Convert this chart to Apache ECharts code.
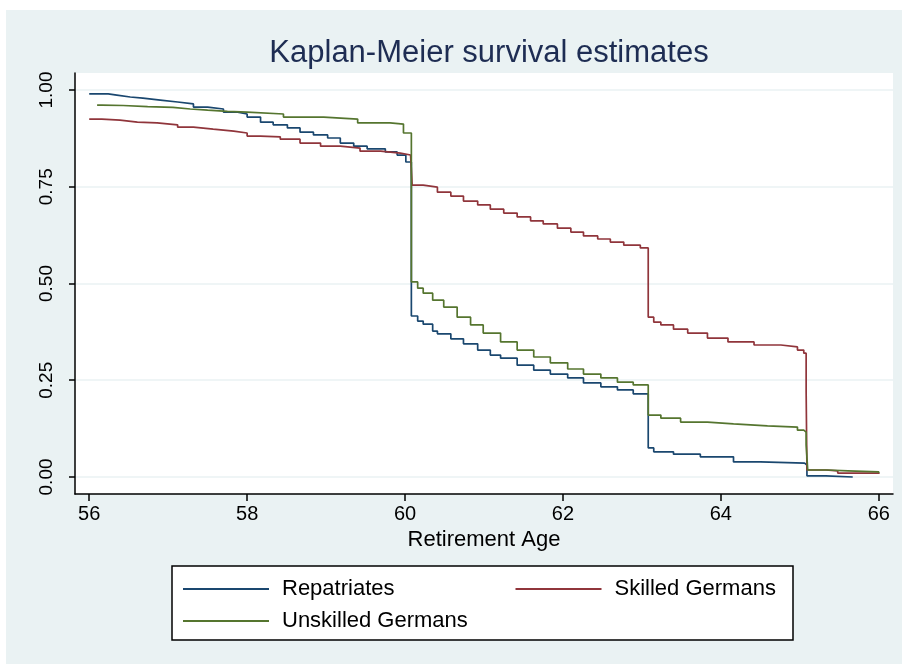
<!DOCTYPE html>
<html>
<head>
<meta charset="utf-8">
<script src="https://cdn.jsdelivr.net/npm/echarts@6/dist/echarts.min.js"></script>
<style>
html, body { margin: 0; padding: 0; background: #fff; }
#km { width: 902px; height: 664px; }
</style>
</head>
<body>
<div id="km"></div>
<script>
// tick labels
var xTicks = [56, 58, 60, 62, 64, 66];
var yTicks = [0, 0.25, 0.5, 0.75, 1];

// Repatriates: retirement age / survival estimate
var repAge = [56.00, 56.24, 56.35, 56.52, 56.68, 56.90, 57.12, 57.32, 57.50, 57.70, 57.88, 58.00, 58.17, 58.33, 58.51, 58.67, 58.84, 59.02, 59.18, 59.35, 59.52, 59.75, 59.90, 60.01, 60.08, 60.16, 60.23, 60.35, 60.41, 60.58, 60.74, 60.92, 61.08, 61.21, 61.42, 61.63, 61.84, 62.06, 62.26, 62.48, 62.69, 62.89, 63.08, 63.15, 63.40, 63.74, 64.16, 64.50, 65.06, 65.09, 65.33, 65.67];
var repSurv = [0.990, 0.987, 0.982, 0.979, 0.974, 0.969, 0.964, 0.956, 0.951, 0.943, 0.938, 0.930, 0.917, 0.910, 0.902, 0.891, 0.884, 0.876, 0.863, 0.855, 0.848, 0.840, 0.832, 0.814, 0.416, 0.403, 0.395, 0.377, 0.370, 0.357, 0.344, 0.328, 0.315, 0.307, 0.289, 0.276, 0.266, 0.256, 0.243, 0.233, 0.225, 0.215, 0.075, 0.065, 0.059, 0.052, 0.039, 0.036, 0.031, 0.003, 0.000, 0.000];

// Skilled Germans
var skAge = [56.00, 56.16, 56.39, 56.61, 56.86, 57.12, 57.32, 57.57, 57.83, 58.00, 58.17, 58.42, 58.67, 58.93, 59.18, 59.43, 59.69, 59.94, 60.07, 60.09, 60.23, 60.41, 60.58, 60.74, 60.92, 61.08, 61.25, 61.42, 61.59, 61.75, 61.93, 62.10, 62.26, 62.44, 62.60, 62.77, 62.98, 63.08, 63.15, 63.24, 63.40, 63.58, 63.83, 64.09, 64.42, 64.76, 64.97, 65.05, 65.08, 65.09, 65.33, 65.48, 66.00];
var skSurv = [0.925, 0.922, 0.917, 0.915, 0.910, 0.904, 0.899, 0.894, 0.889, 0.881, 0.879, 0.873, 0.863, 0.855, 0.850, 0.842, 0.837, 0.832, 0.827, 0.754, 0.749, 0.736, 0.726, 0.713, 0.703, 0.692, 0.682, 0.672, 0.662, 0.654, 0.643, 0.633, 0.623, 0.615, 0.607, 0.599, 0.592, 0.413, 0.400, 0.393, 0.382, 0.372, 0.359, 0.349, 0.341, 0.336, 0.328, 0.320, 0.220, 0.018, 0.016, 0.010, 0.008];

// Unskilled Germans
var unAge = [56.10, 56.16, 56.43, 56.74, 57.06, 57.28, 57.50, 57.75, 58.00, 58.46, 58.97, 59.40, 59.81, 59.98, 60.08, 60.16, 60.23, 60.35, 60.49, 60.66, 60.83, 60.99, 61.21, 61.42, 61.63, 61.84, 62.06, 62.26, 62.48, 62.69, 62.89, 63.08, 63.24, 63.49, 63.83, 64.16, 64.59, 64.97, 65.05, 65.08, 65.10, 65.35, 65.61, 66.00];
var unSurv = [0.961, 0.960, 0.957, 0.955, 0.951, 0.948, 0.945, 0.943, 0.938, 0.930, 0.925, 0.915, 0.912, 0.889, 0.504, 0.488, 0.475, 0.457, 0.439, 0.413, 0.393, 0.372, 0.349, 0.328, 0.310, 0.295, 0.279, 0.266, 0.256, 0.245, 0.238, 0.160, 0.152, 0.142, 0.137, 0.132, 0.129, 0.121, 0.116, 0.083, 0.018, 0.016, 0.013, 0.010];

function pairs(xs, ys) {
  return xs.map(function (x, i) { return [x, ys[i]]; });
}

var font = '"Liberation Sans", Arial, sans-serif';

function kmSeries(name, xs, ys, color) {
  return {
    name: name,
    type: 'line',
    step: 'end',
    symbol: 'none',
    showSymbol: false,
    color: color,
    lineStyle: { color: color, width: 1.7 },
    data: pairs(xs, ys)
  };
}

var chart = echarts.init(document.getElementById('km'));

var option = {
  animation: false,
  textStyle: { fontFamily: font },
  graphic: [
    {
      type: 'rect', z: -10,
      shape: { x: 6, y: 10, width: 896, height: 654 },
      style: { fill: '#EAF2F3' }
    },
    {
      type: 'rect', z: 1,
      shape: { x: 172, y: 566, width: 621, height: 74 },
      style: { fill: '#fff', stroke: '#000', lineWidth: 1.5 }
    }
  ],
  title: {
    text: 'Kaplan-Meier survival estimates',
    left: 484,
    top: 33,
    textAlign: 'center',
    textStyle: { fontFamily: font, fontSize: 31, fontWeight: 'normal', color: '#1E2D53' }
  },
  legend: [
    {
      data: ['Repatriates', 'Skilled Germans'],
      left: 183, top: 577, padding: 0,
      itemWidth: 86, itemHeight: 2, itemGap: 121,
      icon: 'rect', selectedMode: false,
      textStyle: { fontFamily: font, fontSize: 22, color: '#000', lineHeight: 24, padding: [0, 0, 0, 8] }
    },
    {
      data: ['Unskilled Germans'],
      left: 183, top: 609, padding: 0,
      itemWidth: 86, itemHeight: 2,
      icon: 'rect', selectedMode: false,
      textStyle: { fontFamily: font, fontSize: 22, color: '#000', lineHeight: 24, padding: [0, 0, 0, 8] }
    }
  ],
  grid: {
    left: 75, right: 9, top: 73, bottom: 170,
    show: true, backgroundColor: '#fff', borderWidth: 0
  },
  xAxis: {
    type: 'value',
    min: 55.82, max: 66.18,
    name: 'Retirement Age',
    nameLocation: 'middle',
    nameGap: 35,
    nameTextStyle: { fontFamily: font, fontSize: 22, color: '#000' },
    axisLine: { onZero: false, lineStyle: { color: '#000', width: 1.5 } },
    axisTick: { customValues: xTicks, length: 7, lineStyle: { color: '#000', width: 1.5 } },
    axisLabel: { customValues: xTicks, fontFamily: font, fontSize: 20, color: '#000', margin: 10 },
    splitLine: { show: false }
  },
  yAxis: {
    type: 'value',
    min: -0.044, max: 1.044,
    axisLine: { show: true, onZero: false, lineStyle: { color: '#000', width: 1.5 } },
    axisTick: { show: true, customValues: yTicks, length: 6, lineStyle: { color: '#000', width: 1.5 } },
    axisLabel: {
      customValues: yTicks, rotate: 90, fontFamily: font, fontSize: 19, color: '#000', margin: 19,
      formatter: function (v) { return v.toFixed(2); }
    },
    splitLine: { show: true, lineStyle: { color: '#EAF2F3', width: 1.5 } }
  },
  series: [
    kmSeries('Repatriates', repAge, repSurv, '#1A476F'),
    kmSeries('Skilled Germans', skAge, skSurv, '#90353B'),
    kmSeries('Unskilled Germans', unAge, unSurv, '#55752F')
  ]
};

chart.setOption(option);
</script>
</body>
</html>
